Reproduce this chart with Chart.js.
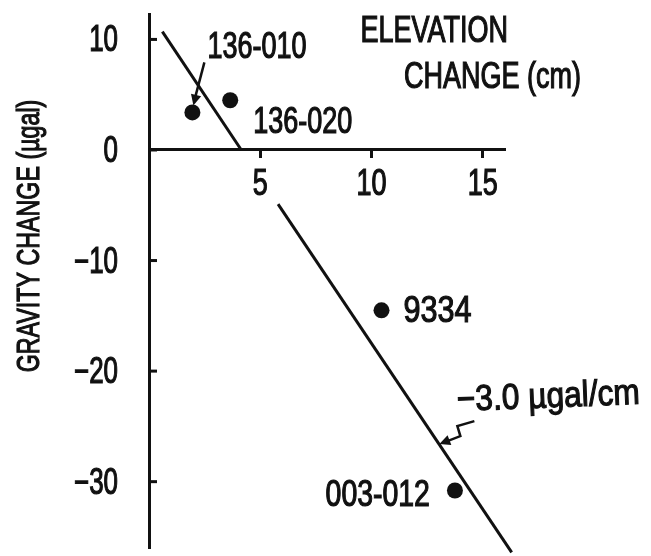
<!DOCTYPE html>
<html>
<head>
<meta charset="utf-8">
<script src="https://cdn.jsdelivr.net/npm/chart.js@4"></script>
<style>
  html, body { margin: 0; padding: 0; background: #fff; }
  #wrap { width: 651px; height: 556px; }
</style>
</head>
<body>
<div id="wrap"><canvas id="gravityChart"></canvas></div>
<script>
// station measurements: elevation change (cm) vs gravity change (µgal)
const stationNames = ['136-010', '136-020', '9334', '003-012'];
const elevationChange = [1.95, 3.65, 10.45, 13.75];
const gravityChange = [3.4, 4.5, -14.5, -30.8];

// fitted gradient line, drawn in two pieces (broken around the "5" label)
const fitUpperX = [0.6, 4.15];
const fitUpperY = [10.7, 0];
const fitLowerX = [5.8, 16.3];
const fitLowerY = [-4.9, -36.4];
const slopeLabel = '\u22123.0 \u00b5gal/cm';

const xTicks = [5, 10, 15];
const yTicks = [10, 0, -10, -20, -30];

const FONT = '"Liberation Sans", Arial, sans-serif';
const SQUEEZE = 0.75; // condensed lettering
const INK = '#111';

const toXY = (xs, ys) => xs.map((x, i) => ({ x: x, y: ys[i] }));
const fmt = (v) => String(v).replace('-', '\u2212');

function text(ctx, str, x, y, align, sq) {
    ctx.save();
    ctx.translate(x, y);
    ctx.scale(sq || SQUEEZE, 1);
    ctx.textAlign = align;
    ctx.lineWidth = 1.2;
    ctx.fillText(str, 0, 0);
    ctx.strokeText(str, 0, 0);
    ctx.restore();
}

function arrowHead(ctx, fromX, fromY, toX, toY, size) {
    const ang = Math.atan2(toY - fromY, toX - fromX);
    ctx.beginPath();
    ctx.moveTo(toX, toY);
    ctx.lineTo(toX - size * Math.cos(ang - 0.45), toY - size * Math.sin(ang - 0.45));
    ctx.lineTo(toX - size * Math.cos(ang + 0.45), toY - size * Math.sin(ang + 0.45));
    ctx.closePath();
    ctx.fill();
}

const figureExtras = {
    id: 'figureExtras',
    afterDraw(chart) {
        const ctx = chart.ctx;
        const xs = chart.scales.x, ys = chart.scales.y;
        const area = chart.chartArea;
        const zeroY = ys.getPixelForValue(0);
        ctx.save();
        ctx.fillStyle = INK;
        ctx.strokeStyle = INK;
        ctx.lineCap = 'butt';

        // inward tick marks on the gravity axis
        ctx.lineWidth = 3;
        yTicks.forEach(v => {
            const py = ys.getPixelForValue(v);
            ctx.beginPath();
            ctx.moveTo(area.left, py);
            ctx.lineTo(area.left + 8, py);
            ctx.stroke();
        });

        ctx.font = '36px ' + FONT;
        ctx.textBaseline = 'alphabetic';

        // tick labels
        yTicks.forEach(v => text(ctx, fmt(v), area.left - 31, ys.getPixelForValue(v) + 12, 'right', 0.72));
        xTicks.forEach(v => text(ctx, fmt(v), xs.getPixelForValue(v), zeroY + 45, 'center'));

        // station labels: pixel offset from the point and letter squeeze
        const offsets = [[15, -54, 0.75], [23, 33, 0.75], [22, 12, 0.85], [-25, 15, 0.79]];
        stationNames.forEach((name, i) => {
            const px = xs.getPixelForValue(elevationChange[i]);
            const py = ys.getPixelForValue(gravityChange[i]);
            const [dx, dy, sq] = offsets[i];
            text(ctx, name, px + dx, py + dy, dx < 0 ? 'right' : 'left', sq);
        });

        // arrow from 136-010 label to its point
        const ax = xs.getPixelForValue(elevationChange[0]);
        const ay = ys.getPixelForValue(gravityChange[0]);
        ctx.lineWidth = 2.5;
        ctx.beginPath();
        ctx.moveTo(ax + 12, ay - 50);
        ctx.lineTo(ax + 2, ay - 12);
        ctx.stroke();
        arrowHead(ctx, ax + 12, ay - 50, ax + 1, ay - 7, 12);

        // zigzag leader to the fitted line
        const tx = xs.getPixelForValue(13.05);
        const ty = ys.getPixelForValue(-26.6);
        ctx.lineWidth = 2.5;
        ctx.beginPath();
        ctx.moveTo(tx + 35, ty - 23);
        ctx.lineTo(tx + 18, ty - 18);
        ctx.lineTo(tx + 21, ty - 8);
        ctx.lineTo(tx + 8, ty - 3);
        ctx.stroke();
        arrowHead(ctx, tx + 21, ty - 8, tx, ty, 12);

        ctx.save();
        ctx.translate(tx + 18, ty - 33);
        ctx.rotate(-0.04);
        text(ctx, slopeLabel, 0, 0, 'left', 0.88);
        ctx.restore();

        // axis titles
        text(ctx, 'ELEVATION', area.right + 3, area.top + 28, 'right');
        text(ctx, 'CHANGE (cm)', area.right + 76, area.top + 74, 'right');

        ctx.save();
        ctx.font = '31px ' + FONT;
        ctx.translate(39, 236);
        ctx.rotate(-Math.PI / 2);
        text(ctx, 'GRAVITY CHANGE (\u00b5gal)', 0, 0, 'center');
        ctx.restore();

        ctx.restore();
    }
};

document.addEventListener('DOMContentLoaded', function () {
    const ctx = document.getElementById('gravityChart').getContext('2d');
    new Chart(ctx, {
        type: 'scatter',
        data: {
            datasets: [
                {
                    label: 'Stations',
                    data: toXY(elevationChange, gravityChange),
                    pointRadius: 8,
                    pointHoverRadius: 8,
                    backgroundColor: INK,
                    borderColor: INK,
                    borderWidth: 0
                },
                {
                    label: 'Fit upper',
                    data: toXY(fitUpperX, fitUpperY),
                    showLine: true,
                    pointRadius: 0,
                    borderColor: INK,
                    borderWidth: 3,
                    clip: false
                },
                {
                    label: 'Fit lower',
                    data: toXY(fitLowerX, fitLowerY),
                    showLine: true,
                    pointRadius: 0,
                    borderColor: INK,
                    borderWidth: 3,
                    clip: false
                }
            ]
        },
        options: {
            responsive: true,
            maintainAspectRatio: false,
            animation: false,
            layout: {
                padding: { top: 14, right: 146, bottom: 0, left: 0 }
            },
            scales: {
                x: {
                    type: 'linear',
                    min: 0,
                    max: 16,
                    position: { y: 0 },
                    afterBuildTicks: (scale) => {
                        scale.ticks = xTicks.map(v => ({ value: v }));
                    },
                    afterFit: (scale) => {
                        scale.height = 0;
                    },
                    border: { display: true, color: INK, width: 3 },
                    grid: {
                        drawOnChartArea: false,
                        drawTicks: true,
                        tickLength: 7,
                        tickWidth: 3,
                        color: INK
                    },
                    ticks: { display: false }
                },
                y: {
                    type: 'linear',
                    min: -36,
                    max: 12.3,
                    afterBuildTicks: (scale) => {
                        scale.ticks = yTicks.map(v => ({ value: v }));
                    },
                    afterFit: (scale) => {
                        scale.width = 149;
                    },
                    border: { display: true, color: INK, width: 3 },
                    grid: { display: false, drawTicks: false },
                    ticks: { display: false }
                }
            },
            plugins: {
                legend: { display: false },
                title: { display: false },
                tooltip: { enabled: false }
            }
        },
        plugins: [figureExtras]
    });
});
</script>
</body>
</html>
